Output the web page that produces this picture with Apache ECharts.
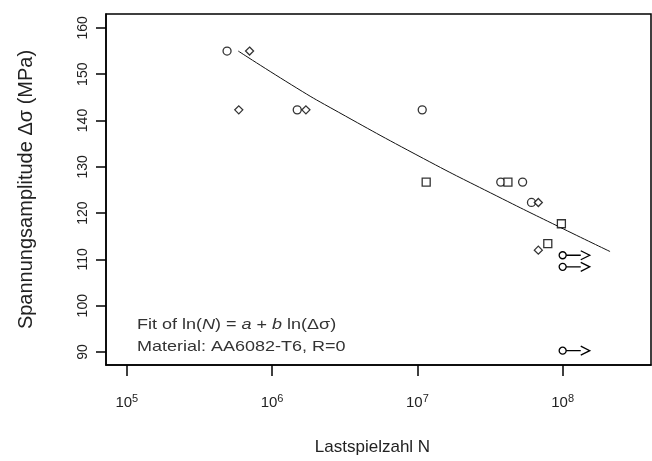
<!DOCTYPE html>
<html>
<head>
<meta charset="utf-8">
<script src="https://cdn.jsdelivr.net/npm/echarts@6/dist/echarts.min.js"></script>
<style>
  html, body { margin: 0; padding: 0; background: #fff; }
  #chart { width: 652px; height: 461px; }
</style>
</head>
<body>
<div id="chart"></div>
<script>
// test results (cycles to failure, stress amplitude in MPa)
var cycles = [4.9e5, 7.0e5, 5.9e5, 1.49e6, 1.71e6, 1.08e7, 1.15e7, 3.75e7, 4.2e7, 5.3e7, 6.1e7, 6.8e7, 9.8e7, 6.8e7, 7.9e7];
var stress = [155.0, 155.0, 142.3, 142.3, 142.3, 142.3, 126.7, 126.7, 126.7, 126.7, 122.3, 122.3, 117.7, 112.0, 113.4];
var shapes = ['circle', 'diamond', 'diamond', 'circle', 'diamond', 'circle', 'rect', 'circle', 'rect', 'circle', 'circle', 'diamond', 'rect', 'diamond', 'rect'];

// run-outs (no failure)
var runoutStart = 1.0e8;
var runoutEnd = 1.5e8;
var runoutStress = [110.9, 108.4, 90.3];

// fitted curve
var fitCycles = [5.85e5, 1.48e6, 2.51e6, 1.10e7, 3.52e7, 1.01e8, 2.12e8];
var fitStress = [155.0, 147.0, 142.8, 131.8, 123.7, 116.6, 111.7];

var xTicks = [5, 6, 7, 8];
var yTicks = [90, 100, 110, 120, 130, 140, 150, 160];

var lg = function (v) { return Math.log10(v) }

var chart = echarts.init(document.getElementById('chart'));

var pointData = cycles.map(function (n, i) {
    return { value: [lg(n), stress[i]], symbol: shapes[i] }
})

var series = [
    {
        name: 'Fit',
        type: 'line',
        data: fitCycles.map(function (n, i) { return [lg(n), fitStress[i]] }),
        showSymbol: false,
        smooth: true,
        lineStyle: { color: '#111', width: 1 },
        z: 2
    },
    {
        name: 'Versuche',
        type: 'scatter',
        data: pointData,
        symbolSize: 8,
        itemStyle: { color: '#fff', borderColor: '#000', borderWidth: 1.3 },
        z: 3
    }
]

// run-out arrows
runoutStress.forEach(function (s) {
    series.push({
        type: 'line',
        data: [
            { value: [lg(runoutStart), s], symbol: 'circle', symbolSize: 7 },
            { value: [lg(runoutEnd), s], symbol: 'path://M0,0L10,5L0,10', symbolSize: [9, 9], symbolOffset: [-3, 0] }
        ],
        showSymbol: true,
        lineStyle: { color: '#000', width: 1.4 },
        itemStyle: { color: '#fff', borderColor: '#000', borderWidth: 1.3 },
        z: 3
    })
})

chart.setOption({
    animation: false,
    grid: {
        left: 106,
        right: 1,
        top: 14,
        bottom: 96,
        show: true,
        borderColor: '#000',
        borderWidth: 1.5
    },
    xAxis: {
        type: 'value',
        min: 4.857,
        max: 8.608,
        name: 'Lastspielzahl N',
        nameLocation: 'middle',
        nameGap: 74,
        nameTextStyle: { fontFamily: 'Liberation Sans', fontSize: 17, color: '#222', padding: [0, 12, 0, 0] },
        axisLine: { show: true, lineStyle: { color: '#000', width: 1.5 } },
        axisTick: { show: true, length: 11, customValues: xTicks, lineStyle: { color: '#000', width: 1.5 } },
        splitLine: { show: false },
        axisLabel: {
            customValues: xTicks,
            margin: 28,
            formatter: function (v) { return '{b|10}{s|' + v + '}' },
            rich: {
                b: { fontFamily: 'Liberation Sans', fontSize: 15, color: '#222' },
                s: { fontFamily: 'Liberation Sans', fontSize: 11, color: '#222', padding: [0, 0, 9, 0] }
            }
        }
    },
    yAxis: {
        type: 'value',
        min: 87.2,
        max: 163,
        name: 'Spannungsamplitude Δσ (MPa)',
        nameLocation: 'middle',
        nameGap: 70,
        nameTextStyle: { fontFamily: 'Liberation Sans', fontSize: 20, color: '#222' },
        axisLine: { show: true, lineStyle: { color: '#000', width: 1.5 } },
        axisTick: { show: true, length: 10, customValues: yTicks, lineStyle: { color: '#000', width: 1.5 } },
        splitLine: { show: false },
        axisLabel: {
            customValues: yTicks,
            rotate: 90,
            margin: 16,
            fontFamily: 'Liberation Sans',
            fontSize: 14,
            color: '#222'
        }
    },
    graphic: [
        {
            type: 'text',
            left: 137,
            top: 317,
            scaleX: 1.2,
            style: {
                text: 'Fit of ln({i|N}) = {i|a} + {i|b} ln(Δσ)',
                fontFamily: 'Liberation Sans',
                fontSize: 15,
                fill: '#333',
                rich: {
                    i: { fontFamily: 'Liberation Sans', fontSize: 15, fontStyle: 'italic', color: '#333' }
                }
            }
        },
        {
            type: 'text',
            left: 137,
            top: 339,
            scaleX: 1.2,
            style: {
                text: 'Material: AA6082-T6, R=0',
                fontFamily: 'Liberation Sans',
                fontSize: 15,
                fill: '#333'
            }
        }
    ],
    series: series
})
</script>
</body>
</html>
